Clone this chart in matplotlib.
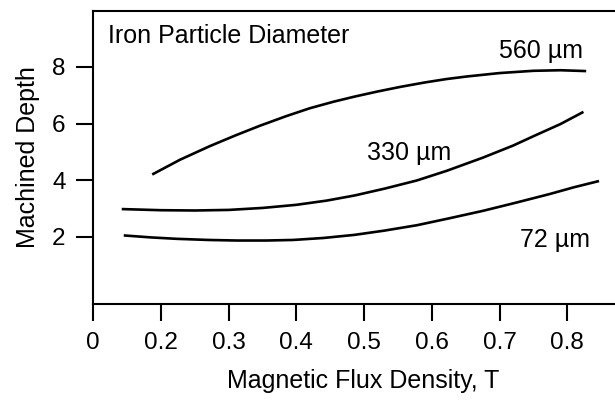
import matplotlib
matplotlib.use("Agg")
import matplotlib.pyplot as plt

plt.rcParams['font.family'] = ['Liberation Sans', 'DejaVu Sans']

# flux density (T) vs machined depth for each particle size
x_560 = [0.187, 0.228, 0.272, 0.310, 0.346, 0.385, 0.420, 0.455, 0.486, 0.520,
         0.553, 0.590, 0.622, 0.652, 0.700, 0.750, 0.790, 0.828]
y_560 = [4.20, 4.72, 5.20, 5.58, 5.92, 6.26, 6.54, 6.77, 6.95, 7.13,
         7.29, 7.45, 7.57, 7.66, 7.78, 7.86, 7.88, 7.85]

x_330 = [0.142, 0.200, 0.250, 0.300, 0.350, 0.400, 0.445, 0.486, 0.530, 0.578,
         0.622, 0.676, 0.720, 0.750, 0.790, 0.824]
y_330 = [2.98, 2.94, 2.93, 2.95, 3.02, 3.13, 3.28, 3.46, 3.70, 3.99,
         4.33, 4.80, 5.22, 5.55, 5.98, 6.41]

x_72 = [0.145, 0.185, 0.223, 0.270, 0.312, 0.355, 0.395, 0.440, 0.486, 0.530,
        0.578, 0.625, 0.676, 0.725, 0.774, 0.810, 0.847]
y_72 = [2.05, 1.98, 1.93, 1.89, 1.87, 1.87, 1.89, 1.96, 2.07, 2.22,
        2.41, 2.65, 2.92, 3.21, 3.51, 3.75, 3.97]

xticks = [0.1, 0.2, 0.3, 0.4, 0.5, 0.6, 0.7, 0.8]
xticklabels = ["0", "0.2", "0.3", "0.4", "0.5", "0.6", "0.7", "0.8"]
yticks = [2, 4, 6, 8]

fig = plt.figure(figsize=(6.15, 4.05), dpi=100)
ax = fig.add_axes([0.1517, 0.2494, 0.8483, 0.7234])

for xs, ys in [(x_560, y_560), (x_330, y_330), (x_72, y_72)]:
    ax.plot(xs, ys, color='black', lw=1.9, solid_capstyle='butt',
            solid_joinstyle='round')

ax.set_xlim(0.1, 0.8706)
ax.set_ylim(-0.37, 9.97)
ax.set_xticks(xticks)
ax.set_xticklabels(xticklabels)
ax.set_yticks(yticks)

ax.spines['right'].set_visible(False)
for s in ['left', 'top', 'bottom']:
    ax.spines[s].set_linewidth(1.5)
ax.tick_params(direction='out', length=12, width=1.5, labelsize=17.5)
ax.tick_params(axis='x', pad=8)
ax.tick_params(axis='y', pad=8)

ax.set_xlabel("Magnetic Flux Density, T", fontsize=18, labelpad=11)
ax.xaxis.label.set_x(0.517)
ax.set_ylabel("Machined Depth", fontsize=18, labelpad=9)

ax.text(0.1217, 9.09, "Iron Particle Diameter", fontsize=18, va='center', ha='left')
ax.text(0.699, 8.55, "560 µm", fontsize=18, va='center', ha='left')
ax.text(0.504, 4.96, "330 µm", fontsize=18, va='center', ha='left')
ax.text(0.730, 1.88, "72 µm", fontsize=18, va='center', ha='left')

fig.savefig("out.png", dpi=100)
